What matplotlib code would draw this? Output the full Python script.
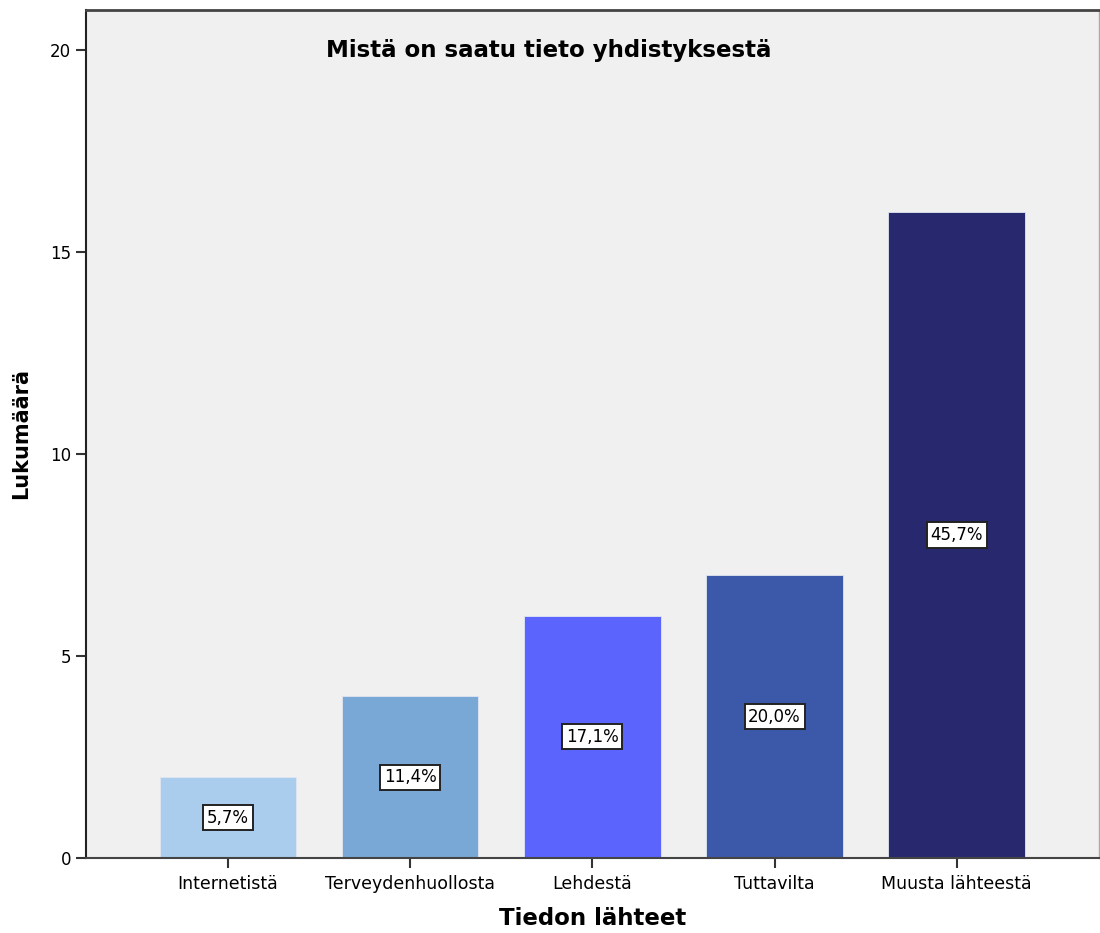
import matplotlib.pyplot as plt

categories = ["Internetistä", "Terveydenhuollosta", "Lehdestä", "Tuttavilta", "Muusta lähteestä"]
counts = [2, 4, 6, 7, 16]
percent_labels = ["5,7%", "11,4%", "17,1%", "20,0%", "45,7%"]
colors = ["#aacdee", "#7aa8d6", "#5c64fe", "#3c58a8", "#27286e"]

fig = plt.figure(figsize=(11, 9.33), dpi=100)
ax = fig.add_axes([0.078, 0.0804, 0.921, 0.909])
ax.set_facecolor("#f0f0f0")

x = range(len(categories))
ax.bar(x, counts, width=0.75, color=colors, edgecolor="#e0e6f0", linewidth=0.6, zorder=2)

for i, (c, lab) in enumerate(zip(counts, percent_labels)):
    ax.text(i, c / 2, lab, ha="center", va="center", fontsize=12, zorder=3,
            bbox=dict(boxstyle="square,pad=0.22", facecolor="white", edgecolor="#222222", linewidth=1.4))

ax.set_xlim(-0.78, 4.78)
ax.set_ylim(0, 21)
ax.set_yticks([0, 5, 10, 15, 20])
ax.set_xticks(list(x))
ax.set_xticklabels(categories)
ax.tick_params(axis="both", direction="out", length=7, width=1.5, labelsize=12, color="#333333")
ax.tick_params(axis="x", labelsize=12.5, pad=5)

ax.spines["left"].set_color("#222222")
ax.spines["left"].set_linewidth(1.5)
ax.spines["bottom"].set_color("#444444")
ax.spines["bottom"].set_linewidth(1.5)
ax.spines["top"].set_color("#444444")
ax.spines["top"].set_linewidth(2)
ax.spines["right"].set_color("#aaaaaa")
ax.spines["right"].set_linewidth(1)

ax.text(0.457, 0.952, "Mistä on saatu tieto yhdistyksestä", transform=ax.transAxes,
        ha="center", va="center", fontsize=16.5, fontweight="bold")

ax.set_ylabel("Lukumäärä", fontsize=15, fontweight="bold", labelpad=14)
ax.set_xlabel("Tiedon lähteet", fontsize=16.5, fontweight="bold", labelpad=10)

fig.savefig("out.png", dpi=100)
